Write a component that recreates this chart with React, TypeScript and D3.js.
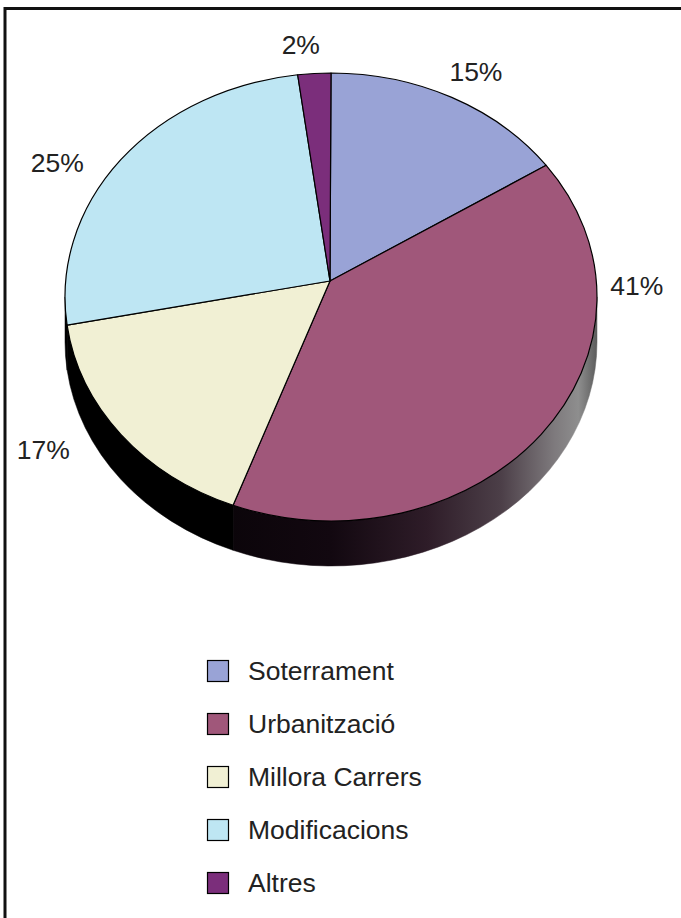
import React from "react";
import * as d3 from "d3";

const categories = ["Soterrament", "Urbanització", "Millora Carrers", "Modificacions", "Altres"];
const values = [15, 41, 17, 25, 2];
const colors = ["#99A3D6", "#A0577A", "#F1F0D4", "#BEE6F3", "#7B2E7B"];

const W = 681;
const H = 918;

// pie geometry (top face ellipse + rim depth)
const cx = 331;
const cy = 297;
const rx = 266;
const ry = 224;
const depth = 45;
const apex: [number, number] = [330, 281];

// small hand nudges so the % labels sit where Excel put them
const labelNudge: [number, number][] = [
  [6, 10],
  [64, -173],
  [-46, -9],
  [-32, 28],
  [-11, 11],
];

const pt = (a: number, dy = 0): [number, number] => [cx + rx * Math.sin(a), cy - ry * Math.cos(a) + dy];

export default function App() {
  const arcs = d3
    .pie<number>()
    .sort(null)
    .value((d) => d)(values);

  const topPath = (s: number, e: number) => {
    const p0 = pt(s);
    const p1 = pt(e);
    const large = e - s > Math.PI ? 1 : 0;
    return `M${apex[0]},${apex[1]}L${p0[0]},${p0[1]}A${rx},${ry} 0 ${large} 1 ${p1[0]},${p1[1]}Z`;
  };

  const sidePath = (s: number, e: number) => {
    const a0 = Math.max(s, Math.PI / 2);
    const a1 = Math.min(e, (3 * Math.PI) / 2);
    if (a1 <= a0) return null;
    const p0 = pt(a0);
    const p1 = pt(a1);
    const q0 = pt(a0, depth);
    const q1 = pt(a1, depth);
    return `M${p0[0]},${p0[1]}A${rx},${ry} 0 0 1 ${p1[0]},${p1[1]}L${q1[0]},${q1[1]}A${rx},${ry} 0 0 0 ${q0[0]},${q0[1]}Z`;
  };

  const fmt = d3.format(".0%");
  const total = d3.sum(values);

  const legendY = d3
    .scalePoint<string>()
    .domain(categories)
    .range([671, 883]);

  return (
    <svg
      width={W}
      height={H}
      style={{ position: "absolute", left: 0, top: 0, background: "#fff" }}
      fontFamily="'Liberation Sans', Arial, sans-serif"
    >
      <defs>
        <linearGradient id="rimUrb" gradientUnits="userSpaceOnUse" x1={cx - rx} y1={0} x2={cx + rx} y2={0}>
          <stop offset="0" stopColor="#000" />
          <stop offset="0.5" stopColor="#120810" />
          <stop offset="0.68" stopColor="#2e1c28" />
          <stop offset="0.82" stopColor="#4c3f48" />
          <stop offset="0.92" stopColor="#7e7a7d" />
          <stop offset="0.965" stopColor="#8e8e8e" />
          <stop offset="1" stopColor="#5c5c5c" />
        </linearGradient>
      </defs>

      <rect x={5} y={8.5} width={W + 20} height={H + 20} fill="#fff" stroke="#111" strokeWidth={3} />

      {/* rim */}
      {arcs.map((a, i) => {
        const d = sidePath(a.startAngle, a.endAngle);
        if (!d) return null;
        return (
          <path
            key={"s" + i}
            d={d}
            fill={i === 1 ? "url(#rimUrb)" : "#000"}
            stroke={i === 1 ? "url(#rimUrb)" : "#000"}
            strokeWidth={0.5}
          />
        );
      })}

      {/* top face */}
      {arcs.map((a, i) => (
        <path
          key={"t" + i}
          d={topPath(a.startAngle, a.endAngle)}
          fill={colors[i]}
          stroke="#000"
          strokeWidth={1.2}
          strokeLinejoin="round"
        />
      ))}

      {/* percentage labels */}
      {arcs.map((a, i) => {
        const mid = (a.startAngle + a.endAngle) / 2;
        const x = cx + (rx + 40) * Math.sin(mid) + labelNudge[i][0];
        const y = cy - (ry + 40) * Math.cos(mid) + labelNudge[i][1];
        return (
          <text
            key={"l" + i}
            x={x}
            y={y}
            textAnchor="middle"
            dominantBaseline="central"
            fontSize={26.5}
            fill="#222"
          >
            {fmt(values[i] / total)}
          </text>
        );
      })}

      {/* legend */}
      {categories.map((c, i) => {
        const y = legendY(c)!;
        return (
          <g key={"g" + i}>
            <rect x={207.5} y={y - 10.5} width={21} height={21} fill={colors[i]} stroke="#000" strokeWidth={1.2} />
            <text x={248} y={y} dominantBaseline="central" fontSize={26.5} fill="#222">
              {c}
            </text>
          </g>
        );
      })}
    </svg>
  );
}
